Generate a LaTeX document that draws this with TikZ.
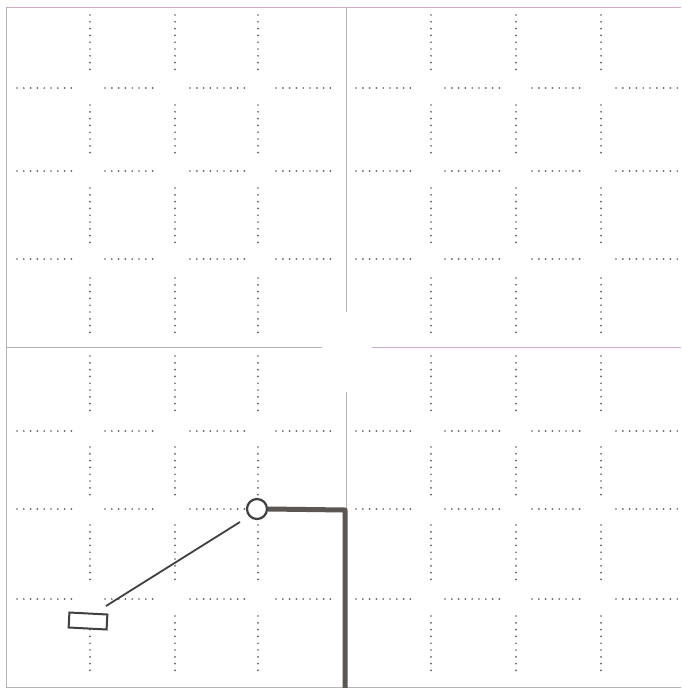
\documentclass[tikz,border=0pt]{standalone}
\definecolor{armgray}{RGB}{92,86,82}
\definecolor{framegray}{RGB}{185,178,180}
\definecolor{framepink}{RGB}{205,170,200}
\begin{document}
\begin{tikzpicture}[x=1pt,y=-1pt,
  frame/.style={draw=framegray, line width=0.8pt},
  dotline/.style={draw=black!62, line width=1.9pt, line cap=round, dash pattern=on 0pt off 6.8pt},
  heavy/.style={draw=armgray, line width=5pt},
  pen/.style={draw=black!75, line width=2.2pt}]
\useasboundingbox (0,0) rectangle (681,688);
\fill[white] (0,0) rectangle (681,688);
% frame
\draw[frame, draw=framepink] (6,7) -- (681,7);
\draw[frame] (6,7) -- (6,687) -- (681,687);
\draw[frame] (346,7) -- (346,312);
\draw[frame] (346,392) -- (346,687);
\draw[frame] (6,347) -- (322,347);
\draw[frame, draw=framepink] (372,347) -- (681,347);
% dotted grid
\foreach \x in {90,175,258,431,516,601}{
  \foreach \a/\b in {15/71,105/155,188/243,278/337,356/411,447/495,525/583,616/677}{
    \draw[dotline] (\x,\a) -- (\x,\b);
  }
}
\foreach \y in {88,171,259,431,509,599}{
  \foreach \a/\b in {17/77,105/157,190/245,276/337,356/414,445/500,532/585,616/678}{
    \draw[dotline] (\a,\y) -- (\b,\y);
  }
}
% pen and arm
\fill[white] (257,509) circle (11);
\node[circle, draw=black!75, line width=2.2pt, minimum size=20pt, inner sep=0pt] (pen) at (257,509) {};
\coordinate (corner) at (345,510);
\coordinate (base) at (345,688);
\draw[heavy, line join=round] (pen.east) -- (corner) -- (base);
% thin link and block
\coordinate (linkA) at (240,522);
\coordinate (linkB) at (106,606);
\draw[pen, line width=1.8pt] (linkA) -- (linkB);
\node[draw=black!75, line width=2pt, fill=white, minimum width=38pt, minimum height=15pt, inner sep=0pt, rotate=-3] (block) at (88,621) {};
\end{tikzpicture}
\end{document}
